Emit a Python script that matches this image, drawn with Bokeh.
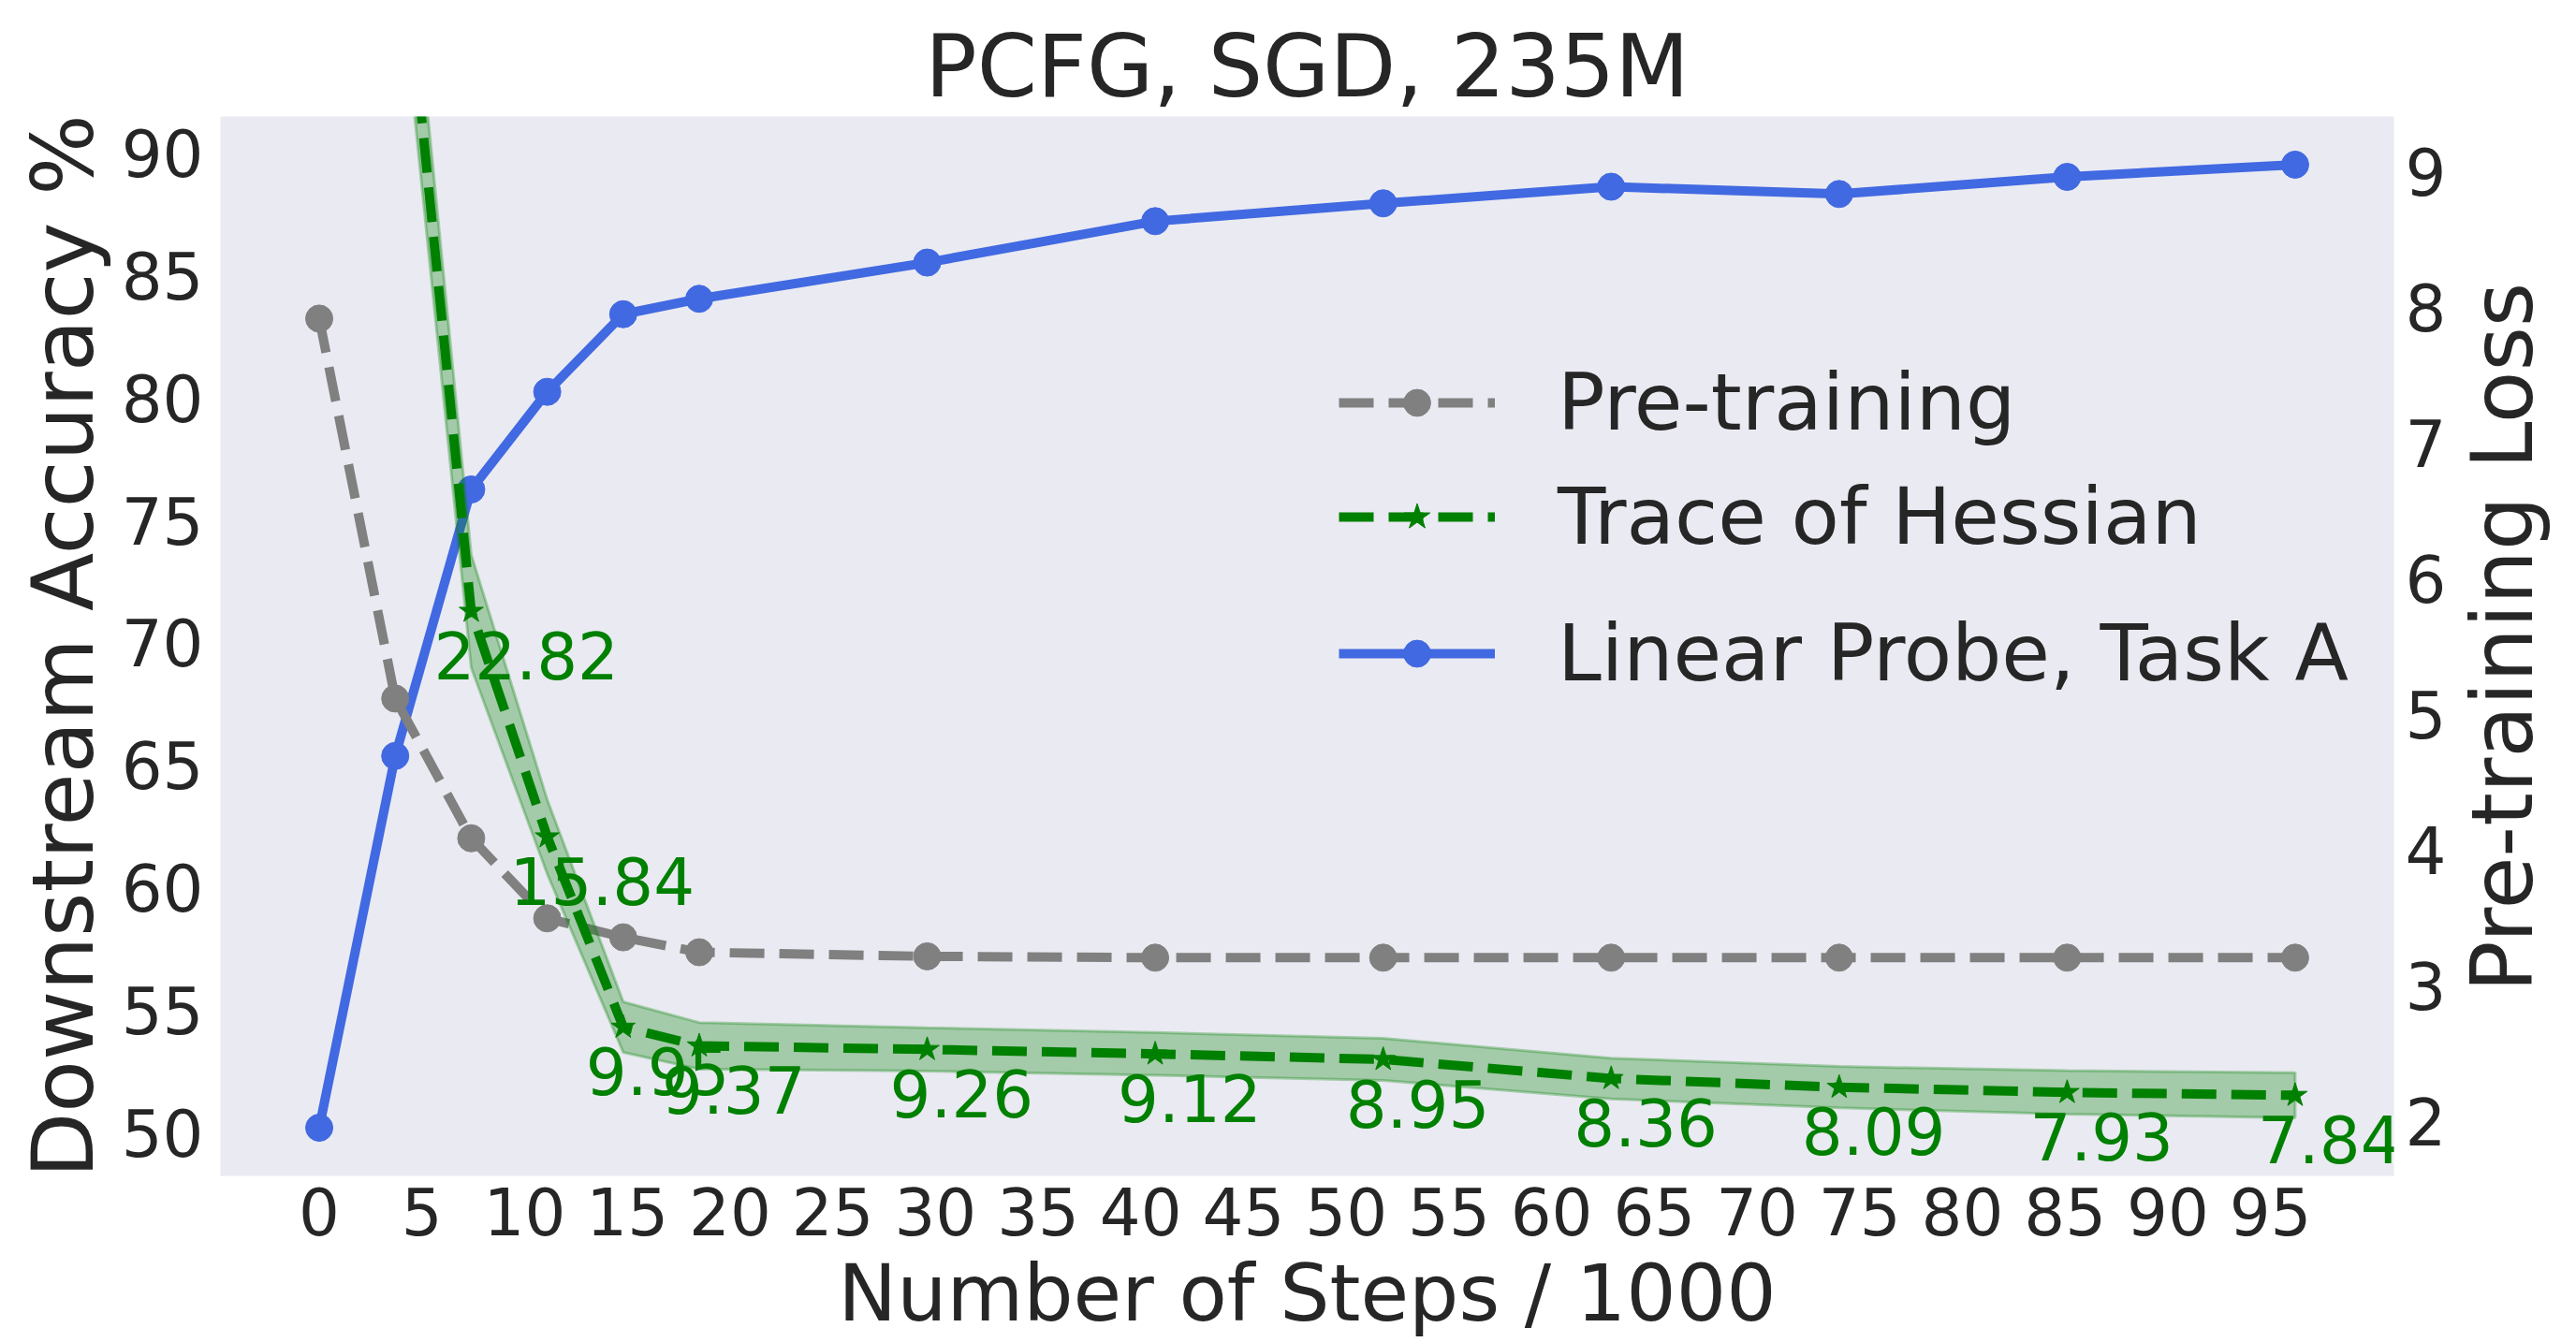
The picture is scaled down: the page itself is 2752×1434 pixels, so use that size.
import math

from bokeh.core.properties import value
from bokeh.embed import file_html
from bokeh.layouts import row
from bokeh.models import FixedTicker, Legend, LegendItem, LinearAxis, Range1d
from bokeh.plotting import figure
from bokeh.resources import INLINE

# ---- data -------------------------------------------------------------
# checkpoints, in thousands of optimisation steps
steps = [0, 3.7, 7.4, 11.1, 14.8, 18.5, 29.6, 40.7, 51.8, 62.9, 74.0, 85.1, 96.2]
# linear-probe accuracy on task A (%)
probe_acc = [50.19, 65.38, 76.27, 80.26, 83.43, 84.06, 85.54, 87.23, 87.96, 88.64, 88.34, 89.04, 89.54]
# pre-training loss
pretrain_loss = [7.92, 5.12, 4.09, 3.50, 3.36, 3.25, 3.22, 3.21, 3.21, 3.21, 3.21, 3.21, 3.21]
# trace of the Hessian: mean and spread over runs
hessian_trace = [61.8, 46.2, 22.82, 15.84, 9.95, 9.37, 9.26, 9.12, 8.95, 8.36, 8.09, 7.93, 7.84]
hessian_std = [2.5, 2.2, 1.75, 1.15, 0.78, 0.72, 0.67, 0.66, 0.65, 0.63, 0.64, 0.67, 0.70]

x_ticks = list(range(0, 100, 5))
acc_ticks = list(range(50, 95, 5))
loss_ticks = list(range(2, 10))

loss_limits = (1.602, 9.409)
trace_limits = (5.345, 38.13)

# ---- styling constants --------------------------------------------------
FONT = "DejaVu Sans"
INK = "#262626"
BLUE = "#4169E1"
GRAY = "#808080"
GREEN = "#008000"
DASH = "37 16"

W, H = 2752, 1434
STRIP_W = 136                      # strip on the far right holding the loss-axis title
MAIN_W = W - STRIP_W
BORDER = dict(left=235, right=MAIN_W - 2560, top=124, bottom=178)


def padded(vals, frac=0.05):
    lo, hi = min(vals), max(vals)
    pad = (hi - lo) * frac
    return lo - pad, hi + pad


x_lo, x_hi = padded(steps)
y_lo, y_hi = padded(probe_acc)

p = figure(
    width=MAIN_W, height=H,
    output_backend="svg", toolbar_location=None,
    x_range=Range1d(x_lo, x_hi), y_range=Range1d(y_lo, y_hi),
    min_border_left=BORDER["left"], min_border_right=BORDER["right"],
    min_border_top=BORDER["top"], min_border_bottom=BORDER["bottom"],
    background_fill_color="#EAEAF2", border_fill_color="white",
    outline_line_color=None,
    title="PCFG, SGD, 235M",
)
p.extra_y_ranges = {
    "loss": Range1d(*loss_limits),
    "trace": Range1d(*trace_limits),
}
p.xgrid.visible = False
p.ygrid.visible = False

p.title.align = "center"
p.title.text_font = FONT
p.title.text_font_size = "92px"
p.title.text_font_style = "normal"
p.title.text_color = INK
p.title.standoff = 0

# ---- axes -------------------------------------------------------------
right_axis = LinearAxis(y_range_name="loss")
p.add_layout(right_axis, "right")

x_axis = p.below[0]
left_axis = p.left[0]

x_axis.ticker = FixedTicker(ticks=x_ticks)
left_axis.ticker = FixedTicker(ticks=acc_ticks)
right_axis.ticker = FixedTicker(ticks=loss_ticks)

x_axis.axis_label = "Number of Steps / 1000"
left_axis.axis_label = "Downstream Accuracy %"

for ax in (x_axis, left_axis, right_axis):
    ax.axis_line_color = None
    ax.major_tick_line_color = None
    ax.minor_tick_line_color = None
    ax.major_tick_out = 0
    ax.major_tick_in = 0
    ax.minor_tick_out = 0
    ax.minor_tick_in = 0
    ax.major_label_text_font = FONT
    ax.major_label_text_font_size = "69px"
    ax.major_label_text_color = INK
    ax.axis_label_text_font = FONT
    ax.axis_label_text_font_style = "normal"
    ax.axis_label_text_color = INK

x_axis.axis_label_text_font_size = "84px"
left_axis.axis_label_text_font_size = "91px"

x_axis.major_label_standoff = 12
x_axis.axis_label_standoff = 10
left_axis.major_label_standoff = 18
left_axis.axis_label_standoff = 7
right_axis.major_label_standoff = 12

# ---- series -----------------------------------------------------------
acc_line = p.line(steps, probe_acc, line_color=BLUE, line_width=10, line_join="round")
acc_pts = p.scatter(steps, probe_acc, marker="circle", size=29,
                    fill_color=BLUE, line_color=BLUE)

loss_line = p.line(steps, pretrain_loss, y_range_name="loss", line_color=GRAY,
                   line_width=10, line_dash=DASH, line_join="round")
loss_pts = p.scatter(steps, pretrain_loss, y_range_name="loss", marker="circle",
                     size=29, fill_color=GRAY, line_color=GRAY)

upper = [m + s for m, s in zip(hessian_trace, hessian_std)]
lower = [m - s for m, s in zip(hessian_trace, hessian_std)]
p.patch(steps + steps[::-1], upper + lower[::-1], y_range_name="trace",
        fill_color=GREEN, fill_alpha=0.3, line_color=GREEN, line_alpha=0.3,
        line_width=3)
tr_line = p.line(steps, hessian_trace, y_range_name="trace", line_color=GREEN,
                 line_width=10, line_dash=DASH, line_join="round")
tr_pts = p.scatter(steps, hessian_trace, y_range_name="trace", marker="star",
                   size=27, fill_color=GREEN, line_color=GREEN)

# value labels for the trace points that fall inside the visible range
shown = [i for i, v in enumerate(hessian_trace) if trace_limits[0] <= v <= trace_limits[1]]
p.text(
    x=[steps[i] for i in shown],
    y=[hessian_trace[i] for i in shown],
    text=[f"{hessian_trace[i]:.2f}" for i in shown],
    y_range_name="trace",
    text_font=value(FONT), text_font_size="69px", text_color=GREEN,
    text_align="left", text_baseline="alphabetic",
    x_offset=-40, y_offset=47,
)

# ---- legends ----------------------------------------------------------
def make_legend(items, loc):
    leg = Legend(items=items, location=loc, orientation="vertical")
    leg.background_fill_alpha = 0
    leg.border_line_color = None
    leg.padding = 0
    leg.margin = 0
    leg.spacing = 24
    leg.glyph_width = 167
    leg.glyph_height = 72
    leg.label_standoff = 67
    leg.label_text_font = FONT
    leg.label_text_font_size = "84px"
    leg.label_text_color = INK
    return leg


legend_loss = make_legend([
    LegendItem(label="Pre-training", renderers=[loss_line, loss_pts]),
    LegendItem(label="Trace of Hessian", renderers=[tr_line, tr_pts]),
], (1195, 655))
legend_probe = make_legend([
    LegendItem(label="Linear Probe, Task A", renderers=[acc_line, acc_pts]),
], (1195, 509))
p.add_layout(legend_loss)
p.add_layout(legend_probe)

# ---- title of the loss axis (reads bottom-to-top, like the left one) ---
strip = figure(
    width=STRIP_W, height=H,
    output_backend="svg", toolbar_location=None,
    x_range=Range1d(0, STRIP_W), y_range=Range1d(0, H),
    x_axis_type=None, y_axis_type=None,
    min_border=0, outline_line_color=None,
    background_fill_color="white", border_fill_color="white",
)
strip.xgrid.visible = False
strip.ygrid.visible = False
frame_mid = H - (BORDER["top"] + (H - BORDER["top"] - BORDER["bottom"]) / 2)
strip.text(
    x=[STRIP_W / 2 - 11], y=[frame_mid - 15], text=["Pre-training Loss"], angle=math.pi / 2,
    text_font=value(FONT), text_font_size="91px", text_color=INK,
    text_align="center", text_baseline="middle",
)

layout = row(p, strip, spacing=0)
open("out.html", "w").write(file_html(layout, INLINE))
